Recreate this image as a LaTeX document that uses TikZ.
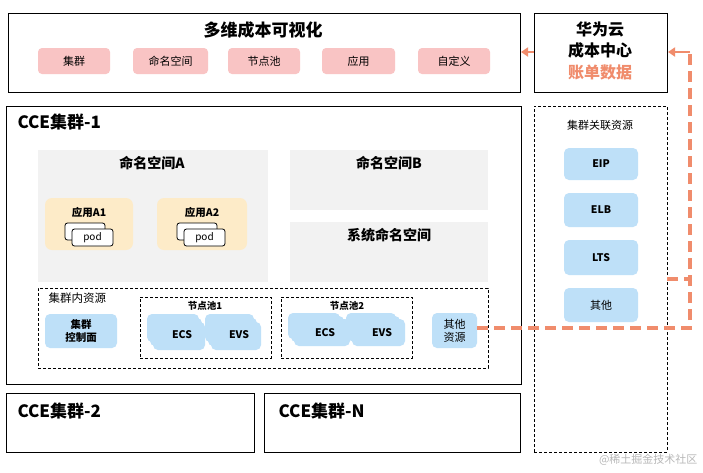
\documentclass[tikz,border=0pt]{standalone}
\usepackage{fontspec}
\setmainfont{Noto Sans CJK SC}
\usetikzlibrary{arrows.meta}
\definecolor{chippink}{HTML}{F9C4C4}
\definecolor{apporange}{HTML}{FDEBC8}
\definecolor{nsgray}{HTML}{F2F2F2}
\definecolor{resblue}{HTML}{BEE0F8}
\definecolor{linkorange}{HTML}{F08C6C}
\definecolor{wmgray}{HTML}{B8B8B8}
\newcommand\bx[6]{\node[#2, anchor=north west, inner sep=0pt, outer sep=0pt,
  minimum width={(#5-#3)*1pt}, minimum height={(#6-#4)*1pt}] (#1) at (#3,#4) {};}
\tikzset{
  frame/.style={draw=black, line width=1pt},
  dframe/.style={draw=black, line width=0.7pt, dash pattern=on 3pt off 2pt},
  nsbox/.style={fill=nsgray},
  chip/.style={fill=chippink, rounded corners=4pt},
  appbox/.style={fill=apporange, rounded corners=7pt},
  podbox/.style={draw=black, fill=white, line width=0.8pt, rounded corners=2.5pt},
  resbox/.style={fill=resblue, rounded corners=5pt},
  cloudpart/.style={fill=resblue, rounded corners=5pt},
  link/.style={draw=linkorange, line width=3.2pt, dash pattern=on 11pt off 6pt},
  linkarrow/.style={draw=linkorange, line width=2.4pt, -{Triangle[length=7pt,width=9pt]}},
  title/.style={font=\bfseries\fontsize{17}{20}\selectfont},
  nstitle/.style={font=\bfseries\fontsize{14}{17}\selectfont},
  small/.style={font=\fontsize{11}{13}\selectfont},
  smallb/.style={font=\bfseries\fontsize{10.5}{12.5}\selectfont},
  tiny/.style={font=\fontsize{10}{12}\selectfont},
}
\begin{document}
\begin{tikzpicture}[x=1pt,y=-1pt]
\useasboundingbox (0,0) rectangle (703,472);
\fill[white] (0,0) rectangle (703,472);

% ---------- top: visualisation ----------
\bx{top}{frame}{8}{13}{520}{92}
\node[title] (toptitle) at (263,30) {多维成本可视化};
\bx{c1}{chip}{38}{48}{110}{74}
\bx{c2}{chip}{133}{48}{208}{74}
\bx{c3}{chip}{228}{48}{300}{74}
\bx{c4}{chip}{322}{48}{395}{74}
\bx{c5}{chip}{418}{48}{490}{74}
\node[small] (c1t) at (c1) {集群};
\node[small] (c2t) at (c2) {命名空间};
\node[small] (c3t) at (c3) {节点池};
\node[small] (c4t) at (c4) {应用};
\node[small] (c5t) at (c5) {自定义};

% ---------- Huawei cost centre ----------
\bx{hw}{frame}{534}{13}{667}{92}
\node[font=\bfseries\fontsize{16}{19}\selectfont] (hw1) at (600,29) {华为云};
\node[font=\bfseries\fontsize{16}{19}\selectfont] (hw2) at (600,50) {成本中心};
\node[font=\bfseries\fontsize{16}{19}\selectfont, text=linkorange] (hw3) at (600,72) {账单数据};

% ---------- CCE cluster 1 ----------
\bx{main}{frame}{6}{106}{521}{384}
\node[title, anchor=west] (maint) at (14,122) {CCE集群-1};

\bx{nsA}{nsbox}{38}{150}{268}{282}
\node[nstitle] (nsAt) at (152,163) {命名空间A};
\bx{nsB}{nsbox}{290}{150}{488}{210}
\node[nstitle] (nsBt) at (389,163) {命名空间B};
\bx{nsS}{nsbox}{290}{222}{488}{282}
\node[nstitle] (nsSt) at (389,235) {系统命名空间};

\bx{a1}{appbox}{45}{198}{133}{250}
\node[smallb] (a1t) at (89,212) {应用A1};
\bx{a1p0}{podbox}{65}{223}{105}{240}
\bx{a1p}{podbox}{72}{229}{113}{246}
\node[tiny] (a1pt) at (a1p) {pod};

\bx{a2}{appbox}{157}{198}{247}{250}
\node[smallb] (a2t) at (202,212) {应用A2};
\bx{a2p0}{podbox}{177}{223}{217}{240}
\bx{a2p}{podbox}{184}{229}{225}{246}
\node[tiny] (a2pt) at (a2p) {pod};

% in-cluster resources
\bx{inner}{dframe}{38}{288}{488}{368}
\node[font=\fontsize{11.5}{13.5}\selectfont, anchor=west] (innert) at (45,298) {集群内资源};
\bx{ctrl}{resbox}{45}{314}{117}{348}
\node[smallb, align=center] (ctrlt) at (ctrl) {集群\\控制面};

\bx{p1}{dframe}{140}{297}{271}{358}
\node[font=\bfseries\fontsize{9.5}{11}\selectfont] (p1t) at (205,306) {节点池1};
\bx{p1a}{cloudpart}{147}{314}{199}{342}
\bx{p1b}{cloudpart}{150}{318}{202}{346}
\bx{p1c}{cloudpart}{153}{322}{205}{350}
\bx{p1d}{cloudpart}{205}{314}{254}{342}
\bx{p1e}{cloudpart}{208}{318}{257}{346}
\bx{p1f}{cloudpart}{211}{322}{261}{350}
\node[smallb] (p1ecs) at (182,335) {ECS};
\node[smallb] (p1evs) at (239,335) {EVS};

\bx{p2}{dframe}{281}{297}{412}{358}
\node[font=\bfseries\fontsize{9.5}{11}\selectfont] (p2t) at (347,306) {节点池2};
\bx{p2a}{cloudpart}{288}{313}{340}{339}
\bx{p2b}{cloudpart}{291}{316}{344}{342}
\bx{p2c}{cloudpart}{294}{319}{350}{346}
\bx{p2d}{cloudpart}{346}{313}{396}{339}
\bx{p2e}{cloudpart}{349}{316}{400}{342}
\bx{p2f}{cloudpart}{352}{319}{405}{346}
\node[smallb] (p2ecs) at (325,333) {ECS};
\node[smallb] (p2evs) at (382,333) {EVS};

\bx{oth}{resbox}{432}{313}{477}{348}
\node[small, align=center] (otht) at (oth) {其他\\资源};

% ---------- related resources ----------
\bx{rel}{dframe}{534}{106}{667}{452}
\node[small] (relt) at (600,125) {集群关联资源};
\bx{eip}{resbox}{564}{148}{638}{180}
\bx{elb}{resbox}{564}{193}{638}{227}
\bx{lts}{resbox}{564}{240}{638}{275}
\bx{roth}{resbox}{564}{288}{638}{322}
\node[smallb] (eipt) at (eip) {EIP};
\node[smallb] (elbt) at (elb) {ELB};
\node[smallb] (ltst) at (lts) {LTS};
\node[small] (rotht) at (roth) {其他};

% ---------- other clusters ----------
\bx{cc2}{frame}{6}{393}{254}{452}
\node[title, anchor=west] (cc2t) at (14,411) {CCE集群-2};
\bx{ccN}{frame}{264}{393}{520}{452}
\node[title, anchor=west] (ccNt) at (275,411) {CCE集群-N};

% ---------- links ----------
\coordinate (jB) at (690,328);
\coordinate (jS) at (690,279);
\coordinate (jT) at (690,52);
\draw[link] (oth.east |- jB) -- (jB) -- (jT);
\draw[link] (rel.east |- jS) -- (jS);
\draw[linkarrow] (jT) -- ([xshift=1pt]hw.east |- jT);
\draw[linkarrow] (hw.west |- jT) -- ([xshift=1pt]top.east |- jT);

% watermark
\node[font=\fontsize{11}{13}\selectfont, text=wmgray, anchor=east] (wm) at (701,460) {@稀土掘金技术社区};
\end{tikzpicture}
\end{document}
